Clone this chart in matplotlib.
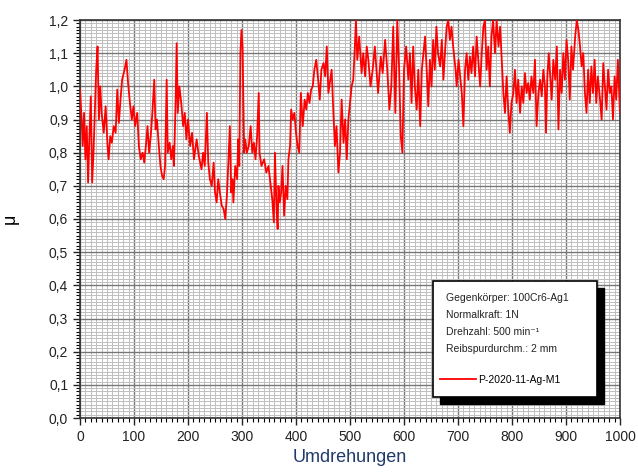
import numpy as np
import matplotlib
matplotlib.use("Agg")
import matplotlib.pyplot as plt
from matplotlib.patches import Rectangle
from matplotlib.ticker import MultipleLocator, FuncFormatter

plt.rcParams['font.family'] = ['Liberation Sans', 'DejaVu Sans']

# Reibwert-Verlauf (Umdrehungen, mu)
umdrehungen = [0, 3, 5, 7.5, 10, 12.5, 15, 17.5, 20, 22.5, 25, 27.5, 30, 32.5, 35, 37.5, 40, 44, 47.5, 51,
               53, 56, 59, 62.5, 66, 69, 72, 75, 78, 82.5, 86, 89, 92.5, 96, 99, 102, 106, 109, 112.5, 116,
               119, 122, 125, 128, 131, 134, 137.5, 140, 142.5, 146, 149, 152, 155, 157.5, 160.5, 162.5, 166, 169, 172, 174,
               177, 179, 181, 184, 187.5, 191, 194, 197, 200, 204, 207.5, 211, 216, 220, 225, 228, 231, 235, 237.5, 240.5,
               244, 247.5, 250, 253, 256, 259, 262.5, 266, 269, 272, 275, 277.5, 280, 282.5, 284, 287.5, 291, 293, 295, 297,
               299, 301, 304, 306, 309, 312.5, 316, 319, 322, 325, 328, 331, 332.5, 336, 341, 345, 349, 352.5, 356, 359,
               361, 364, 366, 367.5, 370, 372.5, 375, 378, 381, 384, 386, 389, 391, 394, 397, 400, 403, 406, 409, 412.5,
               416, 419, 422, 425, 428, 431, 434, 437.5, 441, 444, 447, 451, 454, 457, 460, 466, 469, 472, 475, 478.5,
               481.5, 484.5, 488, 491, 494, 497, 500, 503, 506, 509, 511, 513.5, 517, 521.5, 524.5, 528, 531, 534, 538, 542,
               546, 549, 552, 557, 560.5, 565, 569, 573, 576.5, 580, 584, 587.5, 591, 594, 597, 600, 604, 608, 611, 614,
               617, 620, 623.5, 626.5, 630, 633, 636, 639, 642, 645, 648, 651, 654, 657, 660, 663, 667, 670, 673, 676.5,
               679, 682, 685, 688, 691, 695.5, 697.5, 701, 707, 710, 713, 716, 719, 722, 725, 728, 731.5, 734.5, 737.5, 741,
               744, 747, 750, 753, 756, 759, 762, 765, 768.5, 771.5, 775, 778, 781, 784, 787, 790, 793, 796, 799, 802.5,
               805.5, 808.5, 811.5, 815, 818, 821, 824, 827, 830, 833, 836, 839.5, 842.5, 845.5, 849, 852, 855, 858, 861, 863,
               865.5, 868, 870, 873.5, 876.5, 880, 883, 886, 889, 892, 895, 898, 901, 904, 907, 910, 913, 917, 920, 923,
               926, 929, 932, 935, 938, 941, 944, 947, 950, 953, 956, 959, 963, 966, 969, 972, 975, 978, 981, 984,
               987, 990, 993, 996, 1000]
mu = [0.99, 0.90, 0.82, 0.92, 0.78, 0.88, 0.71, 0.85, 0.97, 0.71, 0.80, 0.93, 1.05, 1.12, 0.90, 1.00, 0.92, 0.86, 0.94, 0.82,
      0.78, 0.85, 0.83, 0.88, 0.86, 0.99, 0.89, 0.96, 1.02, 1.05, 1.08, 1.01, 0.95, 0.90, 0.94, 0.88, 0.92, 0.82, 0.78, 0.80,
      0.77, 0.82, 0.88, 0.80, 0.85, 0.92, 1.02, 0.87, 0.90, 0.82, 0.76, 0.73, 0.72, 0.76, 1.02, 0.80, 0.83, 0.78, 0.82, 0.76,
      0.95, 1.13, 0.92, 1.00, 0.95, 0.88, 0.92, 0.84, 0.90, 0.82, 0.86, 0.78, 0.84, 0.79, 0.75, 0.80, 0.76, 0.92, 0.77, 0.72,
      0.70, 0.77, 0.68, 0.65, 0.72, 0.68, 0.64, 0.63, 0.60, 0.67, 0.78, 0.88, 0.68, 0.72, 0.65, 0.76, 0.72, 0.84, 0.76, 1.10,
      1.17, 1.12, 0.80, 0.84, 0.80, 0.82, 0.88, 0.80, 0.83, 0.78, 0.85, 0.98, 0.80, 0.76, 0.78, 0.74, 0.76, 0.71, 0.66, 0.59,
      0.80, 0.63, 0.57, 0.70, 0.65, 0.68, 0.76, 0.61, 0.70, 0.66, 0.78, 0.82, 0.93, 0.90, 0.92, 0.86, 0.82, 0.80, 0.98, 0.88,
      0.96, 0.93, 0.98, 0.95, 0.99, 1.00, 1.05, 1.08, 1.02, 0.96, 1.05, 1.07, 1.03, 1.12, 0.98, 1.05, 0.93, 0.82, 0.88, 0.74,
      0.80, 0.96, 0.83, 0.90, 0.78, 0.90, 0.95, 1.00, 1.02, 1.12, 1.20, 1.08, 1.15, 1.04, 1.10, 1.03, 1.12, 1.08, 1.00, 1.05,
      1.12, 1.05, 0.98, 1.09, 1.04, 1.14, 1.05, 0.93, 1.00, 1.18, 0.92, 1.20, 1.05, 0.85, 0.80, 1.05, 1.12, 1.02, 1.10, 0.95,
      1.12, 1.00, 0.93, 1.05, 0.88, 1.05, 1.10, 1.15, 1.05, 0.94, 1.08, 1.00, 1.14, 1.05, 1.18, 1.10, 1.06, 1.14, 1.02, 1.12,
      1.18, 1.20, 1.14, 1.18, 1.12, 1.05, 1.00, 1.08, 0.98, 0.88, 1.05, 1.10, 1.02, 1.09, 1.04, 1.12, 1.03, 1.15, 1.08, 1.00,
      1.10, 1.18, 1.20, 1.05, 1.12, 1.00, 1.15, 1.20, 1.10, 1.20, 1.12, 1.18, 1.08, 0.98, 0.92, 1.03, 0.93, 0.86, 0.95, 0.98,
      1.05, 0.95, 1.02, 0.92, 1.00, 0.95, 1.04, 0.98, 1.01, 0.96, 1.03, 0.98, 1.08, 0.88, 0.98, 1.02, 0.97, 1.05, 1.00, 0.86,
      1.03, 1.10, 1.05, 0.96, 1.08, 1.02, 1.12, 0.87, 1.05, 0.98, 1.10, 1.02, 1.14, 1.08, 0.96, 1.12, 1.05, 1.15, 1.20, 1.17,
      1.12, 1.06, 1.10, 0.98, 0.92, 1.05, 0.95, 1.06, 0.98, 1.08, 0.95, 1.03, 0.96, 0.90, 1.07, 1.00, 0.93, 1.05, 0.98, 1.00,
      0.90, 1.03, 0.96, 1.08, 0.92]

info_lines = ["Gegenkörper: 100Cr6-Ag1", "Normalkraft: 1N", "Drehzahl: 500 min⁻¹", "Reibspurdurchm.: 2 mm"]
probe = "P-2020-11-Ag-M1"

fig = plt.figure(figsize=(6.38, 4.76), dpi=100)
ax = fig.add_axes([80/638, 1 - 418/476, 540/638, 398/476])

ax.plot(umdrehungen, mu, color='#ff0000', lw=1.3, label=probe, zorder=3)

ax.set_xlim(0, 1000)
ax.set_ylim(0, 1.2)
ax.xaxis.set_major_locator(MultipleLocator(100))
ax.xaxis.set_minor_locator(MultipleLocator(10))
ax.yaxis.set_major_locator(MultipleLocator(0.1))
ax.yaxis.set_minor_locator(MultipleLocator(0.01))
ax.yaxis.set_major_formatter(FuncFormatter(lambda v, p: f"{v:.1f}".replace('.', ',')))

ax.grid(which='minor', color='#bfbfbf', lw=0.7)
ax.grid(which='major', color='#777777', lw=1.0)
ax.set_axisbelow(True)
ax.tick_params(which='major', direction='out', length=5, width=1, labelsize=10, colors='#222222')
ax.tick_params(which='minor', direction='out', length=3, width=0.8)
for s in ax.spines.values():
    s.set_color('#333333')
    s.set_linewidth(1.2)

ax.set_xlabel('Umdrehungen', fontsize=13, color='#1f3a6b', labelpad=4)
ax.set_ylabel('μ', fontsize=13, labelpad=22)

# Infobox mit Schatten
x0, x1 = (433 - 80) / 540, (597 - 80) / 540
y0, y1 = (418 - 397) / 398, (418 - 281) / 398
dx, dy = 7 / 540, 7 / 398
ax.add_patch(Rectangle((x0 + dx, y0 - dy), x1 - x0, y1 - y0, transform=ax.transAxes,
                       facecolor='black', edgecolor='black', zorder=5))
ax.add_patch(Rectangle((x0, y0), x1 - x0, y1 - y0, transform=ax.transAxes,
                       facecolor='white', edgecolor='black', lw=1.2, zorder=6))
for i, t in enumerate(info_lines):
    ax.text((446 - 80) / 540, (418 - 298 - 17 * i) / 398, t, transform=ax.transAxes,
            fontsize=7.5, va='center', ha='left', color='#222222', zorder=7)

leg = ax.legend(loc='center left', bbox_to_anchor=((440 - 80) / 540, (418 - 380) / 398),
                frameon=False, fontsize=7.5, handlelength=3.5, handletextpad=0.2,
                borderpad=0, borderaxespad=0)
leg.set_zorder(8)

fig.savefig('out.png', dpi=100)
